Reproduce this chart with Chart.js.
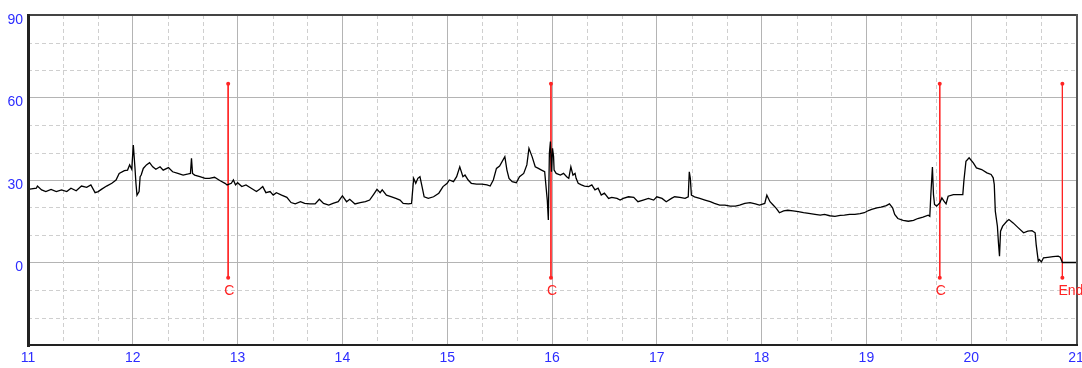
<!DOCTYPE html>
<html>
<head>
<meta charset="utf-8">
<script src="https://cdn.jsdelivr.net/npm/chart.js@4"></script>
<style>
  html, body { margin: 0; padding: 0; background: #fff; }
  #trend { display: block; }
</style>
</head>
<body>
<canvas id="trend" width="1082" height="368"></canvas>
<script>
// --- trace (x = time axis, y = value) ---
const traceX = [
  11.00, 11.08, 11.09, 11.13, 11.17, 11.22, 11.27, 11.32, 11.37, 11.41, 11.46, 11.51, 11.56, 11.60, 11.64, 11.67,
  11.70, 11.75, 11.80, 11.84, 11.87, 11.92, 11.95, 11.97, 11.99, 12.005, 12.02, 12.03, 12.04, 12.06, 12.07, 12.08,
  12.10, 12.13, 12.16, 12.19, 12.22, 12.26, 12.29, 12.34, 12.38, 12.43, 12.48, 12.53, 12.55, 12.56, 12.57, 12.59,
  12.64, 12.69, 12.73, 12.78, 12.83, 12.88, 12.90, 12.94, 12.96, 12.98, 13.00, 13.04, 13.08, 13.13, 13.18, 13.21,
  13.24, 13.27, 13.31, 13.34, 13.37, 13.42, 13.47, 13.51,
  13.55, 13.60, 13.64, 13.69, 13.74, 13.78, 13.82, 13.87, 13.91, 13.96, 14.00, 14.04, 14.07, 14.12, 14.17, 14.22,
  14.26, 14.30, 14.33, 14.36, 14.38, 14.42, 14.47, 14.51, 14.55, 14.58, 14.63, 14.66, 14.68, 14.70, 14.72, 14.74,
  14.76, 14.78, 14.82, 14.87, 14.92, 14.96, 15.00, 15.02, 15.06, 15.09, 15.12, 15.15, 15.17, 15.20, 15.23, 15.28,
  15.33, 15.38, 15.41, 15.44, 15.47, 15.50, 15.55, 15.57, 15.59, 15.62, 15.66, 15.69, 15.73, 15.76, 15.78, 15.81,
  15.84, 15.87, 15.90, 15.93, 15.955, 15.965, 15.975, 15.985, 15.995, 16.005, 16.015, 16.02,
  16.04, 16.08, 16.11, 16.14, 16.16, 16.18, 16.20, 16.22, 16.23, 16.25, 16.28, 16.31, 16.35, 16.38, 16.41, 16.44,
  16.47, 16.50, 16.54, 16.57, 16.62, 16.65, 16.68, 16.73, 16.78, 16.82, 16.87, 16.92, 16.97, 17.00, 17.05, 17.09,
  17.14, 17.17, 17.22, 17.27, 17.30, 17.31, 17.32, 17.33, 17.36, 17.41, 17.46, 17.51, 17.55, 17.60, 17.65, 17.70,
  17.75, 17.79, 17.84, 17.89, 17.94, 17.98, 18.03, 18.05, 18.08, 18.11, 18.14, 18.17, 18.21, 18.25, 18.30, 18.35,
  18.40, 18.45,
  18.51, 18.56, 18.60, 18.65, 18.70, 18.75, 18.79, 18.84, 18.89, 18.94, 18.98, 19.02, 19.05, 19.10, 19.14, 19.19,
  19.22, 19.25, 19.27, 19.30, 19.35, 19.40, 19.45, 19.49, 19.54, 19.59, 19.605, 19.615, 19.63, 19.64, 19.65, 19.67,
  19.70, 19.72, 19.74, 19.76, 19.78, 19.83, 19.88, 19.92, 19.93, 19.95, 19.98, 20.02, 20.05, 20.10, 20.15, 20.19,
  20.21, 20.22, 20.23, 20.25, 20.26, 20.27, 20.28, 20.30, 20.34, 20.36, 20.40, 20.45, 20.50, 20.54, 20.58, 20.61,
  20.62, 20.64, 20.65, 20.67, 20.69, 20.73, 20.78, 20.83, 20.85, 20.87, 21.00
];
const traceY = [
  26.6, 27.0, 27.8, 26.4, 25.8, 26.6, 25.8, 26.4, 25.8, 27.0, 26.1, 27.8, 27.3, 28.2, 25.4, 25.8,
  26.6, 27.8, 28.8, 30.0, 32.4, 33.4, 33.6, 35.5, 33.9, 42.7, 34.8, 28.8, 24.5, 25.8, 31.2, 31.8,
  34.2, 35.5, 36.3, 34.8, 33.9, 34.8, 33.6, 34.5, 33.0, 32.4, 31.8, 32.2, 32.4, 37.9, 32.4, 31.8,
  31.2, 30.6, 30.6, 31.0, 29.8, 28.8, 28.2, 28.8, 30.0, 28.2, 29.0, 27.6, 28.2, 27.0, 25.8, 26.6,
  27.6, 25.4, 25.8, 24.5, 25.4, 24.5, 23.7, 21.8,
  21.3, 22.1, 21.5, 21.3, 21.3, 23.0, 21.5, 20.9, 21.5, 22.1, 24.2, 22.1, 23.0, 21.3, 21.8, 22.1,
  22.7, 24.9, 26.6, 25.4, 26.4, 24.5, 23.9, 23.3, 22.7, 21.5, 21.3, 21.5, 30.6, 28.8, 30.6, 31.2,
  27.6, 23.9, 23.3, 23.9, 25.2, 27.6, 28.8, 30.0, 29.4, 31.2, 34.8, 31.2, 31.8, 30.0, 28.8, 28.5,
  28.5, 28.2, 27.8, 30.0, 34.2, 35.1, 38.5, 33.6, 30.6, 29.4, 29.0, 31.2, 32.4, 35.5, 41.5, 38.5,
  34.8, 34.2, 33.6, 33.0, 22.7, 15.5, 39.7, 44.0, 33.0, 41.5, 38.5, 33.6,
  32.4, 31.8, 32.4, 31.2, 30.6, 34.8, 31.8, 32.4, 30.6, 28.8, 28.2, 27.8, 27.6, 28.2, 26.4, 27.0,
  24.5, 25.2, 23.3, 23.7, 23.3, 22.7, 23.3, 23.9, 23.7, 22.1, 22.7, 23.3, 22.7, 23.9, 23.3, 22.1,
  23.3, 23.9, 23.7, 23.3, 23.9, 33.0, 30.6, 24.5, 23.9, 23.3, 22.7, 22.1, 21.5, 20.9, 20.9, 20.5,
  20.5, 20.9, 21.5, 21.8, 21.3, 20.9, 21.5, 24.5, 22.1, 20.9, 19.7, 18.1, 18.8, 19.0, 18.8, 18.5,
  18.1, 17.9,
  17.5, 17.2, 17.5, 17.0, 16.8, 17.1, 17.2, 17.5, 17.5, 17.8, 18.1, 18.9, 19.3, 19.9, 20.1, 20.7,
  21.3, 19.9, 17.5, 16.0, 15.3, 15.0, 15.3, 16.0, 16.5, 17.2, 16.8, 24.7, 34.7, 24.7, 21.1, 20.5,
  21.7, 23.5, 22.3, 21.3, 24.1, 24.7, 24.7, 24.7, 29.6, 36.8, 38.1, 36.2, 34.4, 33.8, 32.6, 32.0,
  30.8, 28.4, 18.7, 13.2, 7.2, 2.3, 11.4, 13.2, 15.0, 15.6, 14.4, 12.6, 10.8, 11.4, 11.6, 10.8,
  6.5, 0.5, 1.1, 0.2, 1.7, 1.9, 2.1, 2.3, 1.9, 0, 0
];

// --- event markers ---
const markerX = [12.91, 15.99, 19.70, 20.87];
const markerLabels = ['C', 'C', 'C', 'End'];
const markerTop = 65;
const markerBottom = -5.5;
const markerLabelY = -10.5;

// --- axes ---
const xMin = 11, xMax = 21;
const yMin = -30, yMax = 90;
const yHiddenTick = -30;

const TICK_BLUE = '#2d2dff';
const MARK_RED = '#ff2424';
const FONT = "'Liberation Sans', Arial, sans-serif";

// dashed minor grid: thirds on x, tens on y
const minorGrid = {
    id: 'minorGrid',
    beforeDatasetsDraw(chart) {
        const { ctx, chartArea: a, scales: { x, y } } = chart;
        ctx.save();
        ctx.strokeStyle = '#cfcfcf';
        ctx.lineWidth = 1;
        ctx.setLineDash([4, 3]);
        ctx.beginPath();
        for (let v = xMin; v < xMax; v++) {
            [1, 2].forEach(k => {
                const px = Math.round(x.getPixelForValue(v + k / 3)) + 0.5;
                ctx.moveTo(px, a.top);
                ctx.lineTo(px, a.bottom);
            });
        }
        for (let v = yMin; v < yMax; v += 10) {
            if ((v - yMin) % 30 === 0) continue;
            const py = Math.round(y.getPixelForValue(v)) + 0.5;
            ctx.moveTo(a.left, py);
            ctx.lineTo(a.right, py);
        }
        ctx.stroke();
        ctx.restore();
    }
};

// frame + marker captions
const frameAndLabels = {
    id: 'frameAndLabels',
    afterDatasetsDraw(chart) {
        const { ctx, chartArea: a, scales: { x, y } } = chart;
        ctx.save();
        ctx.setLineDash([]);
        ctx.fillStyle = '#444';
        ctx.fillRect(a.left, a.top - 1, a.right - a.left + 2, 2);
        ctx.fillStyle = '#555';
        ctx.fillRect(a.right, a.top - 1, 2, a.bottom - a.top + 2);
        ctx.fillStyle = '#222';
        ctx.fillRect(a.left - 1, a.top - 1, 3, a.bottom - a.top + 3);
        ctx.fillRect(a.left - 1, a.bottom - 1, a.right - a.left + 3, 2);

        ctx.fillStyle = MARK_RED;
        ctx.font = '14px ' + FONT;
        ctx.textAlign = 'left';
        ctx.textBaseline = 'middle';
        markerLabels.forEach((t, i) => {
            ctx.fillText(t, x.getPixelForValue(markerX[i]) - 4, y.getPixelForValue(markerLabelY));
        });
        ctx.restore();
    }
};

const traceData = traceX.map((v, i) => ({ x: v, y: traceY[i] }));
const markerSets = markerX.map(mx => ({
    data: [{ x: mx, y: markerTop }, { x: mx, y: markerBottom }],
    borderColor: MARK_RED,
    borderWidth: 1,
    pointRadius: 2,
    pointBackgroundColor: MARK_RED,
    pointBorderWidth: 0,
    fill: false
}));

function fixWidth(w) {
    return scale => { scale.width = w; scale.paddingTop = 0; scale.paddingBottom = 0; };
}
function fixHeight(h) {
    return scale => { scale.height = h; scale.paddingLeft = 0; scale.paddingRight = 0; };
}

new Chart(document.getElementById('trend').getContext('2d'), {
    type: 'line',
    data: {
        datasets: [
            { data: traceData, borderColor: '#000', borderWidth: 1.3, pointRadius: 0, tension: 0, fill: false },
            ...markerSets
        ]
    },
    options: {
        responsive: false,
        animation: false,
        events: [],
        layout: { padding: { top: 15, right: 6, left: 0, bottom: 0 } },
        plugins: { legend: { display: false }, tooltip: { enabled: false } },
        scales: {
            x: {
                type: 'linear',
                min: xMin, max: xMax,
                afterFit: fixHeight(23),
                border: { display: false },
                grid: { color: '#b4b4b4', lineWidth: 1, drawTicks: false },
                ticks: {
                    stepSize: 1, padding: 5, maxRotation: 0, autoSkip: false,
                    color: TICK_BLUE, font: { family: FONT, size: 14 }
                }
            },
            y: {
                type: 'linear',
                min: yMin, max: yMax,
                afterFit: fixWidth(28),
                border: { display: false },
                grid: { color: '#b4b4b4', lineWidth: 1, drawTicks: false },
                ticks: {
                    stepSize: 30, padding: 5, labelOffset: 5,
                    color: TICK_BLUE, font: { family: FONT, size: 14 },
                    callback: v => (v === yHiddenTick ? '' : v)
                }
            }
        }
    },
    plugins: [minorGrid, frameAndLabels]
});
</script>
</body>
</html>
